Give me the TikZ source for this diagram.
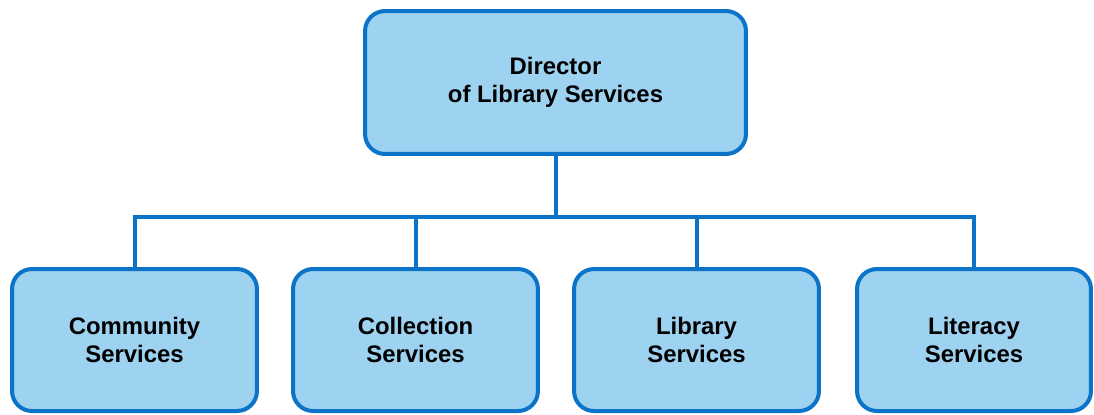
\documentclass[tikz,border=0pt]{standalone}
\usepackage{fontspec}
\setmainfont{Liberation Sans}
\definecolor{boxfill}{HTML}{9DD2F0}
\definecolor{boxline}{HTML}{0B74C8}
\tikzset{
    unit/.style={draw=boxline, fill=boxfill, line width=0.08cm, rounded corners=0.4cm,
        align=center, inner sep=0pt, minimum height=2.84cm,
        font=\fontsize{13.6}{15.9}\selectfont\bfseries},
    link/.style={draw=boxline, line width=0.08cm}
}

\begin{document}
\begin{tikzpicture}[x=0.02cm,y=-0.02cm]
                \useasboundingbox (0,0) rectangle (1094,414);
                \node[unit, minimum width=7.62cm, minimum height=2.86cm] (dir) at (555.5,82.5) {Director\\of Library Services};
                \foreach \name/\x/\w/\txt in {com/134.5/4.9/{Community\\Services}, col/415.5/4.9/{Collection\\Services}, lib/696.5/4.9/{Library\\Services}, lit/974/4.68/{Literacy\\Services}}{
                    \node[unit, minimum width=\w cm] (\name) at (\x,340) {\txt};
                }
                \coordinate (bus) at (555.5,216.5);
                \draw[link] (dir.south) -- (bus);
                \draw[link] (com.north) |- (bus) -| (lit.north);
                \foreach \name in {col,lib}{
                    \draw[link] (\name.north) -- (\name.north |- bus);
                }
            \end{tikzpicture}
\end{document}
